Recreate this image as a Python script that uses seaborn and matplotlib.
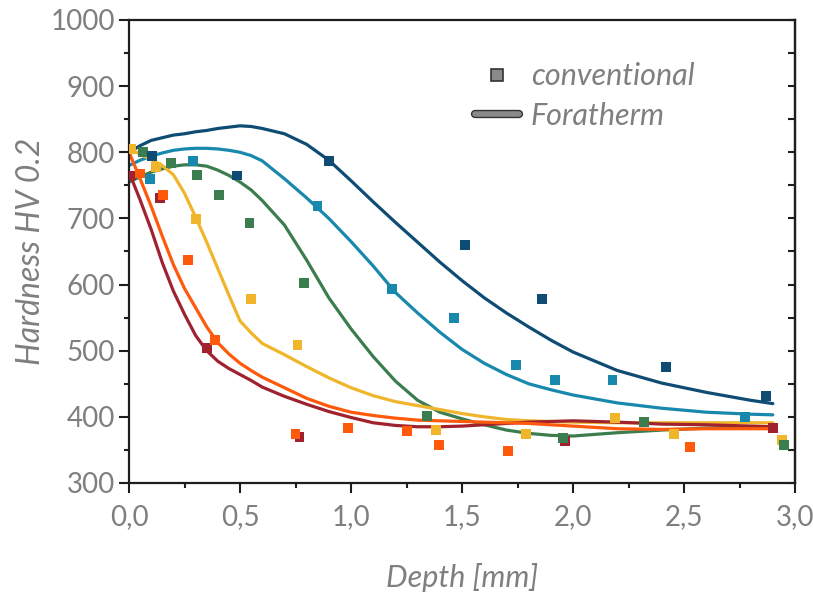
import numpy as np
import pandas as pd
import matplotlib
matplotlib.use("Agg")
import matplotlib.pyplot as plt
import matplotlib.patheffects as pe
from matplotlib.lines import Line2D
from matplotlib.ticker import MultipleLocator, FuncFormatter
import seaborn as sns

# Foratherm fitted hardness profiles (depth in mm, hardness HV 0.2)
fit_depth = [0.0, 0.05, 0.1, 0.15, 0.2, 0.25, 0.3, 0.35, 0.4, 0.45, 0.5, 0.55,
             0.6, 0.7, 0.8, 0.9, 1.0, 1.1, 1.2, 1.3, 1.4, 1.5, 1.6, 1.7, 1.8,
             1.9, 2.0, 2.2, 2.4, 2.6, 2.8, 2.9]
fit_navy = [800, 810, 818, 822, 826, 828, 831, 833, 836, 838, 840, 839,
            836, 828, 812, 788, 757, 725, 694, 664, 634, 606, 580, 557, 536,
            516, 498, 470, 451, 437, 425, 420]
fit_teal = [780, 788, 794, 799, 803, 805, 806, 806, 805, 803, 800, 795,
            787, 760, 731, 700, 665, 628, 588, 557, 528, 502, 481, 464, 450,
            441, 433, 421, 413, 407, 404, 403]
fit_green = [755, 763, 770, 775, 779, 781, 781, 779, 773, 765, 755, 743,
             727, 690, 637, 580, 533, 491, 454, 425, 407, 397, 388, 380, 375,
             372, 371, 376, 380, 383, 385, 385]
fit_yellow = [806, 797, 789, 780, 766, 738, 702, 664, 624, 584, 545, 527,
              511, 494, 476, 459, 444, 432, 423, 417, 411, 405, 400, 396, 394,
              393, 392, 391, 391, 391, 391, 391]
fit_orange = [800, 760, 718, 673, 630, 594, 565, 536, 512, 495, 481, 470,
              460, 444, 428, 416, 407, 402, 398, 395, 394, 393, 392, 391, 390,
              388, 386, 382, 381, 382, 382, 382]
fit_red = [770, 728, 683, 633, 590, 555, 523, 500, 484, 473, 464, 455,
           445, 431, 419, 408, 399, 391, 387, 385, 385, 386, 388, 390, 392,
           393, 394, 392, 389, 388, 386, 385]

# Conventional measurements
conv_red_x = [0.01, 0.139, 0.35, 0.768, 1.962, 2.90]
conv_red_y = [765, 731, 504, 370, 364, 383]
conv_orange_x = [0.05, 0.153, 0.265, 0.386, 0.75, 0.988, 1.253, 1.397, 1.706, 2.528]
conv_orange_y = [768, 735, 637, 516, 374, 383, 379, 357, 348, 354]
conv_yellow_x = [0.01, 0.121, 0.301, 0.548, 0.759, 1.383, 1.79, 2.19, 2.456, 2.94]
conv_yellow_y = [805, 778, 699, 578, 509, 380, 374, 398, 374, 365]
conv_green_x = [0.063, 0.188, 0.305, 0.404, 0.543, 0.79, 1.343, 1.953, 2.32, 2.95]
conv_green_y = [800, 784, 766, 735, 693, 602, 401, 368, 392, 357]
conv_teal_x = [0.094, 0.287, 0.849, 1.185, 1.462, 1.742, 1.92, 2.178, 2.775]
conv_teal_y = [760, 787, 719, 593, 550, 478, 456, 456, 400]
conv_navy_x = [0.103, 0.485, 0.90, 1.513, 1.859, 2.42, 2.87]
conv_navy_y = [794, 765, 787, 660, 578, 475, 432]

palette = {
    "navy": "#0f4c74",
    "teal": "#1888ad",
    "green": "#3b7d4e",
    "yellow": "#f0b52a",
    "orange": "#ff5a0c",
    "red": "#a0222f",
}

fits = {"navy": fit_navy, "teal": fit_teal, "green": fit_green,
        "yellow": fit_yellow, "red": fit_red, "orange": fit_orange}
convs = {"red": (conv_red_x, conv_red_y), "orange": (conv_orange_x, conv_orange_y),
         "yellow": (conv_yellow_x, conv_yellow_y), "green": (conv_green_x, conv_green_y),
         "teal": (conv_teal_x, conv_teal_y), "navy": (conv_navy_x, conv_navy_y)}

fit_df = pd.concat([pd.DataFrame({"depth": fit_depth, "hv": v, "series": k})
                    for k, v in fits.items()], ignore_index=True)
conv_df = pd.concat([pd.DataFrame({"depth": x, "hv": y, "series": k})
                     for k, (x, y) in convs.items()], ignore_index=True)

sns.set_theme(style="white")
plt.rcParams["font.family"] = ["Lato", "DejaVu Sans"]
grey = "#7f7f7f"
spine_c = "#1e1e1e"

fig = plt.figure(figsize=(8.13, 5.97), dpi=100)
ax = fig.add_axes([0.1587, 0.1910, 0.8192, 0.7755])

sns.lineplot(data=fit_df, x="depth", y="hv", hue="series", palette=palette,
             hue_order=list(fits.keys()), linewidth=2.3, legend=False,
             sort=False, estimator=None, ax=ax, zorder=2)
sns.scatterplot(data=conv_df, x="depth", y="hv", hue="series", palette=palette,
                marker="s", s=50, linewidth=0, legend=False, ax=ax, zorder=3)

ax.set_xlim(0, 3.0)
ax.set_ylim(300, 1000)
ax.xaxis.set_major_locator(MultipleLocator(0.5))
ax.xaxis.set_minor_locator(MultipleLocator(0.25))
ax.yaxis.set_major_locator(MultipleLocator(100))
ax.yaxis.set_minor_locator(MultipleLocator(50))
ax.xaxis.set_major_formatter(FuncFormatter(lambda v, p: f"{v:.1f}".replace(".", ",")))

for s in ax.spines.values():
    s.set_color(spine_c)
    s.set_linewidth(1.6)

ax.tick_params(axis="both", which="both", direction="out", color=spine_c,
               width=1.5, labelcolor=grey, labelsize=20,
               top=False, right=False, left=True, bottom=True)
ax.tick_params(axis="both", which="major", length=7)
ax.tick_params(axis="both", which="minor", length=3.5)
ax.tick_params(axis="x", which="major", pad=8)
ax.tick_params(axis="y", which="major", pad=3)

# inward ticks on the right spine
sec = ax.secondary_yaxis("right")
sec.yaxis.set_major_locator(MultipleLocator(50))
sec.tick_params(direction="in", length=5, width=1.5, color=spine_c, labelright=False)
sec.spines["right"].set_color(spine_c)
sec.spines["right"].set_linewidth(1.6)

ax.set_xlabel("Depth [mm]", fontsize=22, color=grey, style="italic", labelpad=24)
ax.set_ylabel("Hardness HV 0.2", fontsize=23, color=grey, style="italic", labelpad=3)

handles = [
    Line2D([], [], ls="none", marker="s", markersize=8, markerfacecolor="#8a8a8a",
           markeredgecolor="#333333", markeredgewidth=1.2),
    Line2D([], [], color="#8a8a8a", lw=4,
           path_effects=[pe.Stroke(linewidth=6, foreground="#333333"), pe.Normal()]),
]
leg = ax.legend(handles, ["conventional", "Foratherm"], loc="upper left",
                bbox_to_anchor=(0.478, 0.968), frameon=False, fontsize=22,
                handlelength=1.45, handletextpad=0.38, labelspacing=0.38)
for t in leg.get_texts():
    t.set_color(grey)
    t.set_style("italic")

fig.savefig("out.png", dpi=100)
